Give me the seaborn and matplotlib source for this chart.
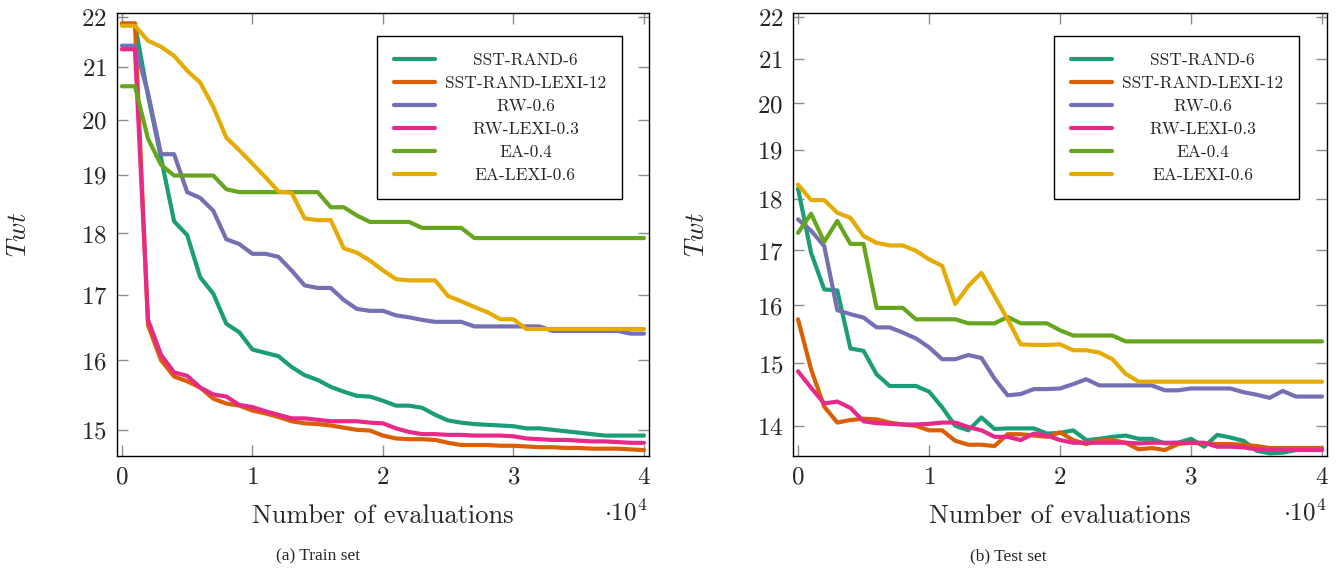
import matplotlib
matplotlib.use("Agg")
import matplotlib.pyplot as plt
import matplotlib.ticker as mticker
import numpy as np
import pandas as pd
import seaborn as sns

# evaluations at which every run was logged
evals = np.arange(0, 41000, 1000)

methods = ["SST-RAND-6", "SST-RAND-LEXI-12", "RW-0.6", "RW-LEXI-0.3", "EA-0.4", "EA-LEXI-0.6"]
colors = ["#1b9e77", "#d95f02", "#7570b3", "#e7298a", "#66a61e", "#e6ab02"]

# Train set (Twt)
train_sst = [21.85, 21.85, 20.45, 19.3, 18.2, 17.97, 17.28, 17.02, 16.55, 16.42, 16.16,
             16.11, 16.06, 15.9, 15.78, 15.71, 15.61, 15.54, 15.48, 15.47, 15.41,
             15.34, 15.34, 15.31, 15.21, 15.13, 15.10, 15.08, 15.07, 15.06, 15.05,
             15.02, 15.02, 15.0, 14.98, 14.96, 14.94, 14.92, 14.92, 14.92, 14.92]
train_sst_lexi = [21.87, 21.87, 16.53, 16.0, 15.76, 15.69, 15.6, 15.44, 15.37, 15.34, 15.27,
                  15.23, 15.18, 15.12, 15.09, 15.08, 15.06, 15.03, 15.0, 14.99, 14.92,
                  14.88, 14.87, 14.87, 14.86, 14.82, 14.79, 14.79, 14.79, 14.78, 14.78,
                  14.77, 14.76, 14.76, 14.75, 14.75, 14.74, 14.74, 14.74, 14.73, 14.72]
train_rw = [21.42, 21.42, 20.5, 19.37, 19.37, 18.7, 18.6, 18.38, 17.9, 17.82, 17.66,
            17.66, 17.61, 17.39, 17.15, 17.11, 17.11, 16.92, 16.78, 16.75, 16.75,
            16.68, 16.65, 16.61, 16.58, 16.58, 16.58, 16.51, 16.51, 16.51, 16.51,
            16.51, 16.51, 16.44, 16.44, 16.44, 16.44, 16.44, 16.44, 16.40, 16.40]
train_rw_lexi = [21.35, 21.35, 16.61, 16.08, 15.82, 15.77, 15.6, 15.50, 15.47, 15.35, 15.32,
                 15.26, 15.21, 15.16, 15.16, 15.14, 15.12, 15.12, 15.12, 15.10, 15.09,
                 15.02, 14.97, 14.94, 14.94, 14.93, 14.93, 14.92, 14.92, 14.92, 14.91,
                 14.88, 14.87, 14.86, 14.86, 14.85, 14.84, 14.84, 14.83, 14.82, 14.82]
train_ea = [20.63, 20.63, 19.65, 19.18, 18.99, 18.99, 18.99, 18.99, 18.75, 18.70, 18.70,
            18.70, 18.70, 18.70, 18.70, 18.70, 18.44, 18.44, 18.30, 18.19, 18.19,
            18.19, 18.19, 18.09, 18.09, 18.09, 18.09, 17.92, 17.92, 17.92, 17.92,
            17.92, 17.92, 17.92, 17.92, 17.92, 17.92, 17.92, 17.92, 17.92, 17.92]
train_ea_lexi = [21.82, 21.82, 21.52, 21.40, 21.22, 20.93, 20.70, 20.24, 19.67, 19.44, 19.20,
                 18.96, 18.71, 18.69, 18.25, 18.22, 18.22, 17.75, 17.68, 17.55, 17.39,
                 17.25, 17.23, 17.23, 17.23, 16.98, 16.90, 16.81, 16.73, 16.62, 16.62,
                 16.47, 16.47, 16.47, 16.47, 16.47, 16.47, 16.47, 16.47, 16.47, 16.47]

# Test set
test_sst = [18.20, 16.95, 16.28, 16.26, 15.25, 15.21, 14.82, 14.63, 14.63, 14.63, 14.54,
            14.29, 14.0, 13.93, 14.13, 13.95, 13.96, 13.96, 13.96, 13.88, 13.89,
            13.93, 13.78, 13.80, 13.83, 13.85, 13.80, 13.80, 13.73, 13.74, 13.80,
            13.68, 13.86, 13.82, 13.77, 13.62, 13.58, 13.59, 13.63, 13.64, 13.64]
test_sst_lexi = [15.75, 14.90, 14.30, 14.05, 14.09, 14.11, 14.10, 14.05, 14.02, 14.0, 13.93,
                 13.93, 13.77, 13.71, 13.71, 13.69, 13.87, 13.87, 13.85, 13.83, 13.90,
                 13.78, 13.72, 13.78, 13.78, 13.74, 13.64, 13.66, 13.63, 13.72, 13.74,
                 13.73, 13.72, 13.72, 13.71, 13.69, 13.66, 13.66, 13.66, 13.66, 13.66]
test_rw = [17.59, 17.37, 17.08, 15.91, 15.84, 15.78, 15.61, 15.61, 15.52, 15.42, 15.27,
           15.07, 15.07, 15.14, 15.09, 14.75, 14.48, 14.50, 14.58, 14.58, 14.59,
           14.66, 14.74, 14.64, 14.64, 14.64, 14.64, 14.64, 14.56, 14.56, 14.59,
           14.59, 14.59, 14.59, 14.53, 14.49, 14.44, 14.55, 14.46, 14.46, 14.46]
test_rw_lexi = [14.87, 14.60, 14.35, 14.38, 14.28, 14.07, 14.04, 14.03, 14.02, 14.02, 14.03,
                14.05, 14.05, 13.98, 13.93, 13.83, 13.83, 13.78, 13.88, 13.85, 13.78,
                13.74, 13.74, 13.74, 13.74, 13.74, 13.73, 13.74, 13.74, 13.74, 13.74,
                13.74, 13.68, 13.68, 13.67, 13.64, 13.63, 13.63, 13.63, 13.63, 13.63]
test_ea = [17.33, 17.70, 17.16, 17.56, 17.12, 17.12, 15.95, 15.95, 15.95, 15.75, 15.75,
           15.75, 15.75, 15.68, 15.68, 15.68, 15.79, 15.68, 15.68, 15.68, 15.56,
           15.47, 15.47, 15.47, 15.47, 15.37, 15.37, 15.37, 15.37, 15.37, 15.37,
           15.37, 15.37, 15.37, 15.37, 15.37, 15.37, 15.37, 15.37, 15.37, 15.37]
test_ea_lexi = [18.28, 17.97, 17.97, 17.72, 17.62, 17.27, 17.14, 17.09, 17.09, 16.99, 16.83,
                16.71, 16.02, 16.34, 16.58, 16.16, 15.75, 15.32, 15.31, 15.31, 15.32,
                15.22, 15.22, 15.18, 15.07, 14.83, 14.70, 14.70, 14.70, 14.70, 14.70,
                14.70, 14.70, 14.70, 14.70, 14.70, 14.70, 14.70, 14.70, 14.70, 14.70]

train_series = [train_sst, train_sst_lexi, train_rw, train_rw_lexi, train_ea, train_ea_lexi]
test_series = [test_sst, test_sst_lexi, test_rw, test_rw_lexi, test_ea, test_ea_lexi]


def to_long(series):
    frames = [pd.DataFrame({"evals": evals, "twt": vals, "method": m})
              for m, vals in zip(methods, series)]
    return pd.concat(frames, ignore_index=True)


sns.set_style("ticks")
plt.rcParams["mathtext.fontset"] = "cm"
plt.rcParams["font.family"] = ["DejaVu Serif"]
plt.rcParams["axes.formatter.use_mathtext"] = True

fig = plt.figure(figsize=(13.38, 5.71), dpi=100)
ax_train = fig.add_axes([0.0874, 0.2014, 0.3976, 0.7758])
ax_test = fig.add_axes([0.5927, 0.2014, 0.3991, 0.7758])


def draw_panel(ax, series, yticks, ylim, ylab_x):
    sns.lineplot(data=to_long(series), x="evals", y="twt", hue="method",
                 hue_order=methods, palette=colors, linewidth=3.0,
                 errorbar=None, ax=ax)
    ax.set_yscale("log")
    ax.set_xlim(-380, 40380)
    ax.set_ylim(*ylim)
    ax.yaxis.set_major_locator(mticker.FixedLocator(yticks))
    ax.yaxis.set_major_formatter(mticker.FuncFormatter(lambda v, p: f"${v:g}$"))
    ax.yaxis.set_minor_locator(mticker.NullLocator())
    ax.yaxis.set_minor_formatter(mticker.NullFormatter())
    ax.xaxis.set_major_locator(mticker.FixedLocator([0, 10000, 20000, 30000, 40000]))
    ax.xaxis.set_major_formatter(mticker.FuncFormatter(lambda v, p: f"${v / 1e4:g}$"))
    ax.tick_params(direction="in", length=8, width=1, color="#8c8c8c",
                   labelsize=18, pad=7, top=True, right=True)
    for sp in ax.spines.values():
        sp.set_color("black")
        sp.set_linewidth(1.0)

    ax.set_xlabel("Number of evaluations", fontsize=19, family="cmr10")
    ax.xaxis.set_label_coords(0.5, -0.108)
    ax.set_ylabel(r"$Twt$", fontsize=19)
    ax.yaxis.set_label_coords(ylab_x, 0.5)
    ax.text(0.998, -0.127, r"$\cdot 10^{4}$", transform=ax.transAxes,
            ha="right", va="center", fontsize=18)

    handles, labels = ax.get_legend_handles_labels()
    leg = ax.legend(handles, labels, loc="upper left", bbox_to_anchor=(0.489, 0.948),
                    borderaxespad=0, prop={"family": "cmr10", "size": 12.5},
                    handlelength=2.4, handletextpad=0.55, labelspacing=0.44,
                    borderpad=0.95, fancybox=False, framealpha=1, edgecolor="black")
    leg.get_frame().set_linewidth(1.0)
    for line in leg.get_lines():
        line.set_linewidth(3.0)
    return leg


legs = [draw_panel(ax_train, train_series, range(15, 23), (14.64, 22.08), -0.162),
        draw_panel(ax_test, test_series, range(14, 23), (13.54, 22.10), -0.157)]

# centre the legend entries like pgfplots does
fig.canvas.draw()
renderer = fig.canvas.get_renderer()
for leg in legs:
    texts = leg.get_texts()
    widths = [t.get_window_extent(renderer).width for t in texts]
    for t, w in zip(texts, widths):
        t.set_x((max(widths) - w) / 2)

fig.text(0.2377, 0.0263, "(a) Train set", ha="center", va="center",
         family="Liberation Serif", fontsize=12.5)
fig.text(0.7534, 0.0263, "(b) Test set", ha="center", va="center",
         family="Liberation Serif", fontsize=12.5)

fig.savefig("out.png", dpi=100)
